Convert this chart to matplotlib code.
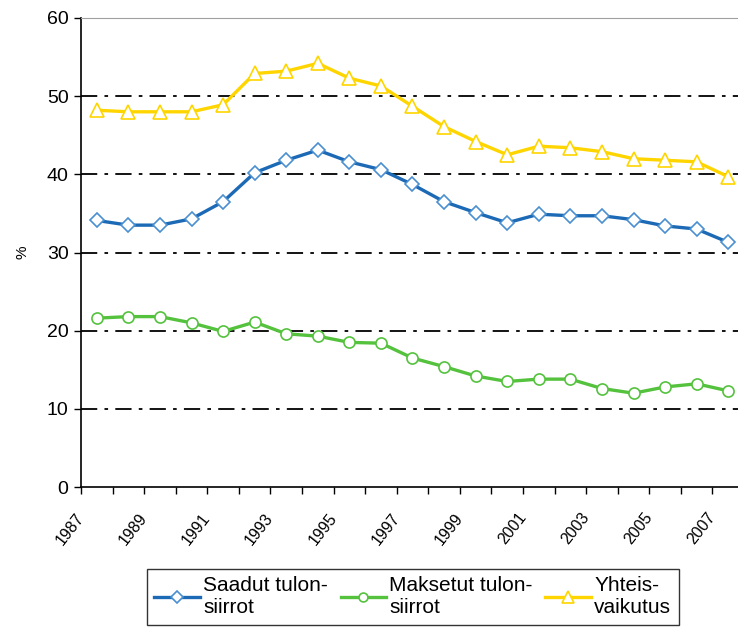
import matplotlib
matplotlib.use("Agg")
import matplotlib.pyplot as plt
import numpy as np

plt.rcParams['font.family'] = ['Liberation Sans', 'DejaVu Sans']

# years 1987-2007
years = list(range(1987, 2008))
saadut = [34.1, 33.5, 33.5, 34.3, 36.5, 40.2, 41.8, 43.1, 41.6, 40.6, 38.7,
          36.5, 35.1, 33.8, 34.9, 34.7, 34.7, 34.2, 33.4, 33.0, 31.3]
maksetut = [21.6, 21.8, 21.8, 21.0, 19.9, 21.1, 19.6, 19.3, 18.5, 18.4, 16.5,
            15.4, 14.2, 13.5, 13.8, 13.8, 12.6, 12.0, 12.8, 13.2, 12.3]
yhteis = [48.2, 48.0, 48.0, 48.0, 48.9, 52.9, 53.2, 54.2, 52.3, 51.3, 48.7,
          46.1, 44.2, 42.5, 43.6, 43.4, 42.9, 42.0, 41.8, 41.6, 39.7]
labels = ["Saadut tulon-\nsiirrot", "Maksetut tulon-\nsiirrot", "Yhteis-\nvaikutus"]

W, H = 738, 628
fig = plt.figure(figsize=(W / 100, H / 100), dpi=100)
ax = fig.add_axes([81 / W, (H - 487) / H, (744 - 81) / W, (487 - 18) / H])

x = np.arange(len(years))
l1, = ax.plot(x, saadut, color='#1C69B5', lw=2.4, marker='D', markersize=7.5,
              markerfacecolor='white', markeredgecolor='#4A8FD0', markeredgewidth=1.2, zorder=3)
l2, = ax.plot(x, maksetut, color='#55C23E', lw=2.4, marker='o', markersize=8,
              markerfacecolor='white', markeredgecolor='#55C23E', markeredgewidth=1.2, zorder=3)
l3, = ax.plot(x, yhteis, color='#FFD500', lw=2.4, marker='^', markersize=10,
              markerfacecolor='white', markeredgecolor='#FFD500', markeredgewidth=1.2, zorder=3)

ax.set_xlim(-0.5, len(years) - 0.5)
ax.set_ylim(0, 60)
ax.set_yticks(range(0, 61, 10))
for v in range(10, 60, 10):
    ax.axhline(v, color='black', lw=1.3, dashes=(9, 4, 2, 4), zorder=1)

tick_pos = x - 0.5
ax.set_xticks(tick_pos)
ax.set_xticklabels([str(y) if (y - 1987) % 2 == 0 else "" for y in years],
                   rotation=52, ha='right', va='center', rotation_mode='anchor', fontsize=11.5)
ax.tick_params(axis='x', length=5, width=1, pad=15)
ax.tick_params(axis='y', length=5, width=1, labelsize=14, pad=4)

ax.spines['right'].set_visible(False)
ax.spines['top'].set_color('#a0a0a0')
ax.spines['top'].set_linewidth(0.8)
for s in ['left', 'bottom']:
    ax.spines[s].set_linewidth(1.2)

ax.set_ylabel('%', fontsize=11, labelpad=12)

leg = fig.legend([l1, l2, l3], labels, loc='upper left', ncol=3,
                 bbox_to_anchor=(147 / W, 1 - 569 / H), fontsize=15,
                 frameon=True, fancybox=False, edgecolor='black',
                 handlelength=2.2, handletextpad=0.15, columnspacing=0.6,
                 borderpad=0.35, borderaxespad=0, labelspacing=0.3,
                 markerscale=0.8)
leg.get_frame().set_linewidth(1)

fig.savefig('out.png', dpi=100)
